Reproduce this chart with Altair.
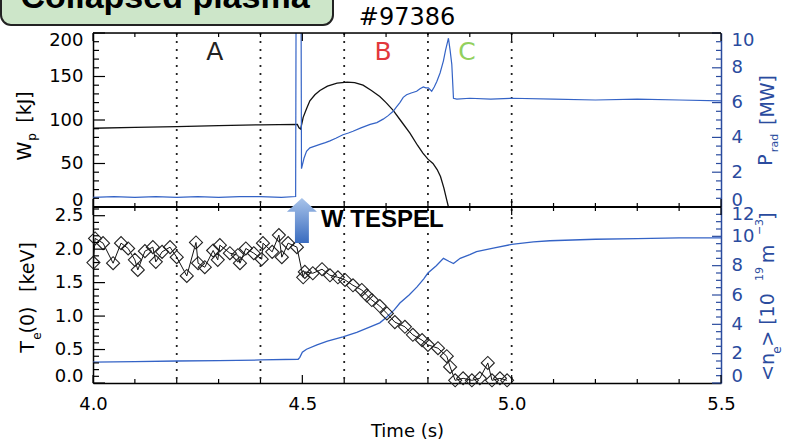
import altair as alt
import pandas as pd

# ---------------------------------------------------------------- data
# Stored energy W_p [kJ]
T_WP = [4.0, 4.1, 4.2, 4.3, 4.4, 4.488, 4.492, 4.496, 4.502, 4.51, 4.518, 4.53,
        4.542, 4.56, 4.583, 4.607, 4.625, 4.645, 4.665, 4.685, 4.70, 4.717, 4.737,
        4.757, 4.775, 4.788, 4.80, 4.812, 4.822, 4.83, 4.838, 4.845, 4.849]
WP = [90.5, 91.5, 92.5, 93.5, 94.5, 95, 91, 89.5, 103, 113, 122, 129,
      134, 139, 142.5, 143.5, 143, 140, 134, 127, 120, 111, 98,
      85, 71, 62, 55, 50, 43, 35, 22, 8, 0]

# Radiated power P_rad [MW]
T_PRAD = [4.0, 4.05, 4.1, 4.15, 4.2, 4.25, 4.3, 4.35, 4.4, 4.45,
          4.484, 4.4855, 4.4965, 4.498, 4.504, 4.51, 4.518, 4.53, 4.542, 4.555,
          4.566, 4.58, 4.597, 4.61, 4.621, 4.64, 4.662, 4.678, 4.693, 4.705,
          4.717, 4.725, 4.733, 4.741, 4.749, 4.76, 4.773, 4.781, 4.789, 4.795,
          4.801, 4.809, 4.815, 4.821, 4.829, 4.837, 4.842, 4.849, 4.853, 4.857,
          4.861, 4.869, 4.9, 4.95, 5.0, 5.1, 5.2, 5.3, 5.4, 5.5]
PRAD = [0.55, 0.6, 0.55, 0.6, 0.55, 0.6, 0.55, 0.6, 0.6, 0.55,
        0.6, 16, 16, 2.2, 2.8, 3.2, 3.4, 3.5, 3.6, 3.7,
        3.8, 3.95, 4.15, 4.25, 4.35, 4.55, 4.75, 4.85, 5.05, 5.25,
        5.5, 5.75, 6.0, 6.3, 6.45, 6.55, 6.65, 6.8, 6.9, 6.85,
        6.85, 6.65, 6.9, 7.2, 7.7, 8.4, 9.0, 9.7, 9.0, 8.2,
        6.25, 6.2, 6.25, 6.2, 6.25, 6.2, 6.15, 6.2, 6.15, 6.1]

# Central electron temperature T_e(0) [keV]
T_TE = [4.001, 4.005, 4.024, 4.048, 4.067, 4.084, 4.100, 4.107, 4.124, 4.143,
        4.150, 4.165, 4.184, 4.200, 4.224, 4.246, 4.251, 4.267, 4.287, 4.298,
        4.303, 4.327, 4.346, 4.351, 4.365, 4.384, 4.403, 4.406, 4.428, 4.444,
        4.451, 4.466, 4.487, 4.502, 4.506, 4.525, 4.547, 4.566, 4.585, 4.602,
        4.621, 4.642, 4.654, 4.666, 4.685, 4.702, 4.721, 4.745, 4.764, 4.786,
        4.800, 4.824, 4.845, 4.853, 4.865, 4.884, 4.905, 4.924, 4.943, 4.953,
        4.972, 4.989]
TE = [1.80, 2.16, 2.09, 1.79, 2.09, 2.01, 1.84, 1.69, 1.97, 2.03,
      1.81, 1.96, 2.03, 1.88, 1.60, 2.10, 1.79, 1.73, 1.98, 1.84,
      2.06, 1.94, 1.91, 1.79, 2.01, 1.94, 1.85, 2.09, 1.96, 2.21,
      1.88, 2.09, 2.03, 1.58, 1.66, 1.64, 1.70, 1.61, 1.58, 1.54,
      1.46, 1.39, 1.31, 1.24, 1.15, 1.04, 0.91, 0.84, 0.72, 0.64,
      0.57, 0.52, 0.40, 0.24, 0.04, 0.07, 0.04, 0.07, 0.30, 0.04,
      0.07, 0.04]

# Line-averaged density <n_e> [1e19 m^-3]
T_NE = [4.0, 4.1, 4.2, 4.3, 4.4, 4.49, 4.494, 4.5, 4.51, 4.535, 4.56, 4.597,
        4.63, 4.662, 4.685, 4.702, 4.72, 4.733, 4.755, 4.774, 4.79, 4.8, 4.82,
        4.837, 4.85, 4.861, 4.877, 4.9, 4.916, 4.956, 5.0, 5.052, 5.091, 5.2,
        5.3, 5.4, 5.5]
NE = [1.43, 1.46, 1.5, 1.52, 1.57, 1.62, 1.75, 2.1, 2.3, 2.6, 2.85, 3.15,
      3.45, 3.82, 4.1, 4.5, 5.0, 5.45, 6.0, 6.55, 7.1, 7.5, 8.0,
      8.5, 8.3, 8.15, 8.5, 8.75, 8.95, 9.2, 9.45, 9.62, 9.7, 9.8,
      9.85, 9.9, 9.9]

# Dotted phase boundaries
GRID_T = [4.2, 4.4, 4.6, 4.8, 5.0]

# Phase labels
PHASE_TEXT = ["A", "B", "C"]
PHASE_T = [4.291, 4.693, 4.893]
PHASE_W = [178, 178, 178]
PHASE_COLOR = ["#222222", "#e2383c", "#92d05e"]

# Pellet injection marker
PELLET_T = [4.499]
PELLET_TE = [2.43]
PELLET_TEXT_T = [4.691]
PELLET_TEXT_TE = [2.44]

SHOT_T = [4.75]

# Axis labels
X_LABELS = [4.0, 4.5, 5.0, 5.5]
W_LABELS = [0, 50, 100, 150, 200]
P_LABELS = [0, 2, 4, 6, 8, 10]
TE_LABELS = [0.0, 0.5, 1.0, 1.5, 2.0, 2.5]
NE_LABELS = [0, 2, 4, 6, 8, 10, 12]

# ---------------------------------------------------------------- style
FONT = "DejaVu Sans"
BOLD = "Liberation Sans"
BLUE = "#3463c6"
AXBLUE = "#2a4b9e"

PW, HT, HB = 628, 174, 176
H = HT + HB

XS = alt.Scale(domain=[4.0, 5.5], nice=False, zero=False)
WS = alt.Scale(domain=[0, 200], range=[HT, 0], nice=False, zero=False)
PS = alt.Scale(domain=[0, 10], range=[HT, 0], nice=False, zero=False)
TS = alt.Scale(domain=[0, 2.63], range=[H, HT], nice=False, zero=False)
NS = alt.Scale(domain=[0, 12], range=[H, HT], nice=False, zero=False)

ONE = pd.DataFrame({"k": [0]})

XAX = alt.Axis(values=X_LABELS, format=".1f", title="Time (s)", grid=False,
               ticks=False, tickSize=0, labelFlush=False, labelOverlap=False,
               labelPadding=12, labelFont=FONT, labelFontSize=18, labelColor="black",
               titleFont=FONT, titleFontSize=18, titleFontWeight="normal",
               titleColor="black", titlePadding=9, domainColor="black", domainWidth=1.5)


def X():
    return alt.X("t:Q", scale=XS, axis=XAX)


def yaxis(orient, values, fmt, color):
    return alt.Axis(orient=orient, values=values, format=fmt, title=None, grid=False,
                    ticks=False, tickSize=0, labelFlush=True, labelFlushOffset=2,
                    labelOverlap=False, labelPadding=10, labelFont=FONT,
                    labelFontSize=18, labelColor=color, domainColor=color,
                    domainWidth=1.5)


def vtext(text, x, y, size, color="black", angle=0, font=FONT, weight="normal",
          baseline="middle"):
    return alt.Chart(ONE).mark_text(
        text=text, fontSize=size, color=color, angle=angle, font=font,
        fontWeight=weight, align="center", baseline=baseline
    ).encode(x=alt.value(x), y=alt.value(y))


def yticks(vals, scale, x0, x1, color):
    return alt.Chart(pd.DataFrame({"v": vals})).mark_rule(
        color=color, strokeWidth=1.2
    ).encode(y=alt.Y("v:Q", scale=scale, axis=None), x=alt.value(x0), x2=alt.value(x1))


def xticks(vals, y0, y1):
    return alt.Chart(pd.DataFrame({"t": vals})).mark_rule(
        color="black", strokeWidth=1.2
    ).encode(x=X(), y=alt.value(y0), y2=alt.value(y1))


# tick positions
x_major = X_LABELS
x_minor = [round(4.0 + 0.1 * i, 1) for i in range(16) if i % 5]
w_minor = [v for v in range(0, 201, 10) if v % 50]
p_minor = [v / 2 for v in range(0, 21) if v % 4]
te_minor = [round(v / 10, 1) for v in range(0, 27) if v % 5]
ne_minor = [v / 2 for v in range(0, 25) if v % 4]

# ---------------------------------------------------------------- layers
grid = alt.Chart(pd.DataFrame({"t": GRID_T})).mark_rule(
    color="#222222", strokeWidth=1.8, strokeDash=[2, 6]
).encode(x=X(), y=alt.value(0), y2=alt.value(H))

wp_line = alt.Chart(pd.DataFrame({"t": T_WP, "w": WP})).mark_line(
    color="#111111", strokeWidth=1.3
).encode(x=X(), y=alt.Y("w:Q", scale=WS, axis=yaxis("left", W_LABELS, "d", "black")))

prad_line = alt.Chart(pd.DataFrame({"t": T_PRAD, "p": PRAD})).mark_line(
    color=BLUE, strokeWidth=1.2, clip=True
).encode(x=X(), y=alt.Y("p:Q", scale=PS, axis=yaxis("right", P_LABELS, "d", AXBLUE)))

te_df = pd.DataFrame({"t": T_TE, "te": TE})
te_line = alt.Chart(te_df).mark_line(color="#111111", strokeWidth=1).encode(
    x=X(), y=alt.Y("te:Q", scale=TS, axis=yaxis("left", TE_LABELS, ".1f", "black")))
te_pts = alt.Chart(te_df).mark_point(
    shape="diamond", size=170, filled=False, color="#222222", strokeWidth=1.1, opacity=1
).encode(x=X(), y=alt.Y("te:Q", scale=TS, axis=None))

ne_line = alt.Chart(pd.DataFrame({"t": T_NE, "n": NE})).mark_line(
    color=BLUE, strokeWidth=1.3
).encode(x=X(), y=alt.Y("n:Q", scale=NS, axis=yaxis("right", NE_LABELS, "d", AXBLUE)))

frame_top = alt.Chart(ONE).mark_rule(color="black", strokeWidth=1.5).encode(
    x=alt.value(0), x2=alt.value(PW), y=alt.value(0))
frame_mid = alt.Chart(ONE).mark_rule(color="black", strokeWidth=2).encode(
    x=alt.value(0), x2=alt.value(PW), y=alt.value(HT))

tick_layers = [
    yticks(W_LABELS, WS, 0, 12, "black"), yticks(w_minor, WS, 0, 6, "black"),
    yticks(P_LABELS, PS, PW, PW - 9, AXBLUE), yticks(p_minor, PS, PW, PW - 5, AXBLUE),
    yticks(TE_LABELS, TS, 0, 12, "black"), yticks(te_minor, TS, 0, 6, "black"),
    yticks(NE_LABELS, NS, PW, PW - 9, AXBLUE), yticks(ne_minor, NS, PW, PW - 5, AXBLUE),
    xticks(x_major, 0, 8), xticks(x_minor, 0, 4),
    xticks(x_major, HT, HT - 8), xticks(x_minor, HT, HT - 4),
    xticks(x_major, HT, HT + 8), xticks(x_minor, HT, HT + 4),
    xticks(x_major, H, H - 8), xticks(x_minor, H, H - 4),
]

phases = alt.Chart(pd.DataFrame({"t": PHASE_T, "w": PHASE_W, "label": PHASE_TEXT,
                                 "c": PHASE_COLOR})).mark_text(
    fontSize=25, font=FONT, baseline="middle"
).encode(x=X(), y=alt.Y("w:Q", scale=WS, axis=None), text="label:N",
         color=alt.Color("c:N", scale=None))

ARROW = "M0,-1L0.667,-0.38L0.31,-0.38L0.31,1L-0.31,1L-0.31,-0.38L-0.667,-0.38Z"
arrow = alt.Chart(pd.DataFrame({"t": PELLET_T, "te": PELLET_TE})).mark_point(
    shape=ARROW, size=2025, filled=True, strokeWidth=0, opacity=1,
    fill={"gradient": "linear", "x1": 0, "y1": 0, "x2": 0, "y2": 1,
          "stops": [{"offset": 0, "color": "#a9c4ea"}, {"offset": 1, "color": "#3a6cbf"}]}
).encode(x=X(), y=alt.Y("te:Q", scale=TS, axis=None))

pellet_text = alt.Chart(pd.DataFrame({"t": PELLET_TEXT_T, "te": PELLET_TEXT_TE})).mark_text(
    text="W TESPEL", font=BOLD, fontWeight="bold", fontSize=24, color="black", baseline="middle"
).encode(x=X(), y=alt.Y("te:Q", scale=TS, axis=None))

shot = alt.Chart(pd.DataFrame({"t": SHOT_T})).mark_text(
    text="#97386", font=FONT, fontSize=24, color="black", baseline="middle"
).encode(x=X(), y=alt.value(-15))

badge = alt.Chart(ONE).mark_rect(
    cornerRadius=10, fill="#cde6c9", stroke="#222222", strokeWidth=2
).encode(x=alt.value(-92), x2=alt.value(240), y=alt.value(-70), y2=alt.value(-8))
badge_text = vtext("Collapsed plasma", 72, -25, 34, font=BOLD, weight="bold",
                   baseline="alphabetic")

# rotated axis titles built from pieces (for sub/superscripts)
titles = [
    vtext("W", -68, 118, 19, angle=270),
    vtext("p", -61, 104, 12, angle=270),
    vtext("[kJ]", -68, 74, 19, angle=270),
    vtext("P", 673, 127, 19, AXBLUE, angle=270),
    vtext("rad", 682, 110, 11, AXBLUE, angle=270),
    vtext("[MW]", 675, 67, 19, AXBLUE, angle=270),
    vtext("T", -65, 314, 19, angle=270),
    vtext("e", -56, 303, 12, angle=270),
    vtext("(0)", -65, 287, 19, angle=270),
    vtext("[keV]", -65, 234, 19, angle=270),
    vtext("<n", 675, 334, 19, AXBLUE, angle=270),
    vtext("e", 684, 317, 12, AXBLUE, angle=270),
    vtext("> [10", 675, 287, 19, AXBLUE, angle=270),
    vtext("19", 667, 241, 11, AXBLUE, angle=270),
    vtext("m", 675, 221, 19, AXBLUE, angle=270),
    vtext("\u22123", 667, 194, 11, AXBLUE, angle=270),
    vtext("]", 675, 183, 19, AXBLUE, angle=270),
]

layers = ([grid, badge, badge_text, shot, wp_line, prad_line, ne_line, te_line, te_pts]
          + tick_layers + [frame_top, frame_mid, phases, arrow, pellet_text] + titles)

chart = alt.layer(*layers).resolve_scale(y="independent").properties(
    width=PW, height=H,
    autosize=alt.AutoSizeParams(type="none"),
    padding={"left": 93, "top": 33, "right": 66, "bottom": 62},
).configure_view(stroke=None).configure(background="white")

chart.save("out.html", embed_options={"renderer": "svg", "actions": False})
